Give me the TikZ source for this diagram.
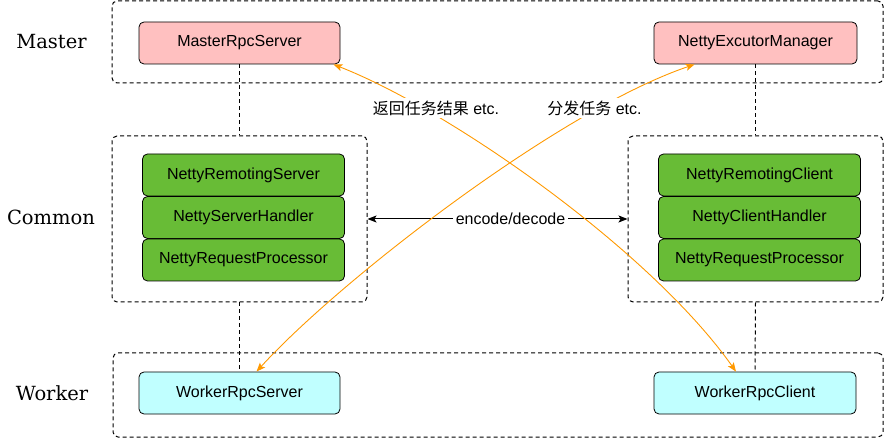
\documentclass[tikz,border=0pt]{standalone}
\usepackage{fontspec}
\setmainfont{Liberation Sans}
\newfontfamily\cjk{Noto Sans CJK SC}
\newfontfamily\sidefont{DejaVu Serif}
\usetikzlibrary{arrows.meta,calc}
\definecolor{pinkfill}{RGB}{255,192,192}
\definecolor{greenfill}{RGB}{104,188,54}
\definecolor{cyanfill}{RGB}{192,255,255}
\definecolor{arroworange}{RGB}{255,153,0}
\tikzset{
  boxbase/.style={draw=black, line width=0.8pt, rounded corners=5pt, minimum height=42pt, inner sep=0pt, font=\fontsize{16}{19}\selectfont},
  pinkbox/.style={boxbase, fill=pinkfill},
  greenbox/.style={boxbase, fill=greenfill, minimum width=202pt},
  cyanbox/.style={boxbase, fill=cyanfill},
  container/.style={draw=black, line width=1pt, dash pattern=on 4pt off 3pt, rounded corners=5pt, inner sep=0pt},
  dashlink/.style={draw=black, line width=1pt, dash pattern=on 4pt off 3pt},
  sidelabel/.style={font=\sidefont\fontsize{19.5}{22}\selectfont},
  orangearrow/.style={draw=arroworange, line width=0.9pt, {Stealth[length=9pt,width=7pt,inset=2pt]}-{Stealth[length=9pt,width=7pt,inset=2pt]}},
  blackarrow/.style={draw=black, line width=1pt, {Stealth[length=9pt,width=7pt,inset=2pt]}-{Stealth[length=9pt,width=7pt,inset=2pt]}},
  flowlabel/.style={fill=white, inner sep=3pt, font=\fontsize{16}{19}\selectfont},
}
\begin{document}
\begin{tikzpicture}[x=1pt,y=-1pt]
\useasboundingbox (0,0) rectangle (884,438);
% containers
\node[container, minimum width=771pt, minimum height=82pt] (mc) at (497.5,42) {};
\node[container, minimum width=255pt, minimum height=166pt] (cl) at (239.5,219) {};
\node[container, minimum width=255pt, minimum height=166pt] (cr) at (755.5,219) {};
\node[container, minimum width=770pt, minimum height=84pt] (wc) at (498,395) {};
% side labels
\node[sidelabel] (lmaster) at (51.5,42) {Master};
\node[sidelabel] (lcommon) at (51,217) {Common};
\node[sidelabel] (lworker) at (52,393) {Worker};
% master boxes
\node[pinkbox, minimum width=201pt] (ms) at (239.5,43) {MasterRpcServer};
\node[pinkbox, minimum width=203pt] (nem) at (755.5,43) {NettyExcutorManager};
% common boxes
\node[greenbox] (nrs) at (243.5,175) {NettyRemotingServer};
\node[greenbox] (nsh) at (243.5,217.5) {NettyServerHandler};
\node[greenbox] (nrp1) at (243.5,260) {NettyRequestProcessor};
\node[greenbox] (nrc) at (759.5,175) {NettyRemotingClient};
\node[greenbox] (nch) at (759.5,217.5) {NettyClientHandler};
\node[greenbox] (nrp2) at (759.5,260) {NettyRequestProcessor};
% worker boxes
\node[cyanbox, minimum width=201pt] (wrs) at (239.5,393) {WorkerRpcServer};
\node[cyanbox, minimum width=202pt] (wrc) at (755,393) {WorkerRpcClient};
% dashed links
\draw[dashlink] (ms.south) -- (cl.north);
\draw[dashlink] (cl.south) -- (wrs.north);
\draw[dashlink] (nem.south) -- (cr.north);
\draw[dashlink] (cr.south) -- (wrc.north);
% encode/decode
\draw[blackarrow] (cl.east) -- (cr.west);
\node[fill=white, inner sep=3pt, font=\fontsize{16}{19}\selectfont] (enc) at (510.5,219) {encode/decode};
% orange arrows
\draw[orangearrow] ([xshift=-19pt]wrc.north) .. controls (650,250) and (450,110) .. ([xshift=-7pt]ms.south east);
\draw[orangearrow] ([xshift=17pt]wrs.north) .. controls (340,280) and (560,110) .. ([xshift=41pt]nem.south west);
\node[flowlabel] (l1) at (436,108) {{\cjk 返回任务结果} etc.};
\node[flowlabel] (l2) at (594.5,108) {{\cjk 分发任务} etc.};
\end{tikzpicture}
\end{document}
